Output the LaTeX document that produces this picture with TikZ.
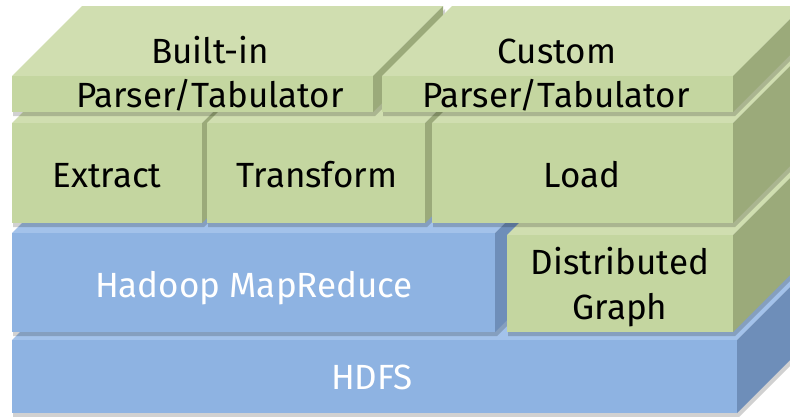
\documentclass[tikz,border=0pt]{standalone}
\usepackage{fontspec}
\setmainfont{Fira Sans}
\definecolor{gfront}{HTML}{C4D6A0}
\definecolor{gtop}{HTML}{D0DEB0}
\definecolor{gside}{HTML}{9BAA7A}
\definecolor{bfront}{HTML}{8EB3E2}
\definecolor{btop}{HTML}{A3C2EA}
\definecolor{bside}{HTML}{6E8EB9}
\newcommand\blk[5]{%
  \fill[black,opacity=.18] (#1+1,#2+3) -- (#3+2,#2+3) -- (#3+72,#2-67) -- (#3+72,#4-66) -- (#3+2,#4+4) -- (#1+1,#4+4) -- cycle;
  \fill[#5top] (#1,#2) -- (#1+70,#2-70) -- (#3+70,#2-70) -- (#3,#2) -- cycle;
  \fill[#5side] (#3,#2) -- (#3+70,#2-70) -- (#3+70,#4-70) -- (#3,#4) -- cycle;
  \fill[#5front] (#1,#2) rectangle (#3,#4);
}
\tikzset{lbl/.style={font=\fontsize{35}{44}\selectfont, align=center, inner sep=0pt},
  dark/.style={lbl,text=black}, light/.style={lbl,text=white}}
\begin{document}
\begin{tikzpicture}[x=1pt,y=-1pt]
\useasboundingbox (0,0) rectangle (790,416);
\fill[white] (0,0) rectangle (790,416);
\clip (0,0) rectangle (790,416);
% row 4
\blk{12}{340}{737}{413}{b}
% row 3
\blk{12}{233}{495}{332}{b}
\blk{507}{235}{733}{332}{g}
% row 2
\blk{12}{123}{202}{223}{g}
\blk{207}{123}{425}{223}{g}
\blk{432}{123}{733}{223}{g}
% row 1
\blk{12}{76}{373}{112}{g}
\blk{382}{76}{733}{112}{g}
% labels
\node[dark, anchor=base] (bi1) at (210,63) {Built-in};
\node[dark, anchor=base] (bi2) at (210,107) {Parser/Tabulator};
\node[dark, anchor=base] (cu1) at (557,63) {Custom};
\node[dark, anchor=base] (cu2) at (556,107) {Parser/Tabulator};
\node[dark, anchor=base] (ext) at (107,187) {Extract};
\node[dark, anchor=base] (tra) at (317,187) {Transform};
\node[dark, anchor=base] (loa) at (582,187) {Load};
\node[light, anchor=base] (had) at (254,297) {Hadoop MapReduce};
\node[dark, anchor=base] (dg1) at (620,274) {Distributed};
\node[dark, anchor=base] (dg2) at (620,319) {Graph};
\node[light, anchor=base] (hdf) at (372,389) {HDFS};
\end{tikzpicture}
\end{document}
